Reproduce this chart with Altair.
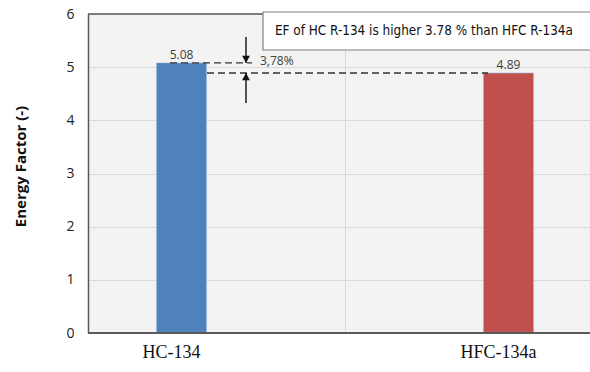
import altair as alt
import pandas as pd

categories = ["HC-134", "HFC-134a"]
series = ["HC", "HFC"]
values = [5.08, 4.89]
value_labels = ["5.08", "4.89"]
colors = ["#4F81BD", "#C0504D"]
y_ticks = [0, 1, 2, 3, 4, 5, 6]
diff_label = "3,78%"
note = "EF of HC R-134 is higher 3.78 % than HFC R-134a"

df = pd.DataFrame({"cat": categories, "ser": series, "val": values, "lab": value_labels})

W, H = 502, 319
xs = alt.Scale(domain=categories, range=[0, 514], paddingInner=0, paddingOuter=0)
xo = alt.Scale(domain=series, paddingInner=0.2857, paddingOuter=0.9786)
ys = alt.Scale(domain=[0, 6], nice=False)

base = alt.Chart(df)

bars = base.mark_bar(stroke="#9fb8dd", strokeWidth=0.6).encode(
    x=alt.X("cat:N", scale=xs, sort=categories,
            axis=alt.Axis(title=None, labels=False, ticks=False, domain=False,
                          grid=True, tickBand="extent", gridColor="#d9d9d9", gridWidth=1)),
    xOffset=alt.XOffset("ser:N", scale=xo),
    y=alt.Y("val:Q", scale=ys,
            axis=alt.Axis(title="Energy Factor (-)", values=y_ticks, ticks=False,
                          grid=True, gridColor="#d9d9d9", domain=True,
                          domainColor="#595959", domainWidth=1.5,
                          labelFont="Open Sans", labelFontSize=14, labelColor="#222222",
                          labelPadding=14,
                          titleFont="Open Sans", titleFontSize=15, titleFontWeight="bold",
                          titleColor="#111111", titleX=-68, titleY=152,
                          titleBaseline="middle", titleAlign="center", titleAngle=270)),
    color=alt.Color("ser:N", scale=alt.Scale(domain=series, range=colors), legend=None),
)

bar_labels = base.mark_text(font="Open Sans", fontSize=12, color="#404040", dy=-8).encode(
    x=alt.X("cat:N", scale=xs, sort=categories),
    xOffset=alt.XOffset("ser:N", scale=xo),
    y=alt.Y("val:Q", scale=ys),
    text="lab:N",
)

cat_labels = base.mark_text(font="Liberation Serif", fontSize=18, color="#111111", dx=-10).encode(
    x=alt.X("cat:N", scale=xs, sort=categories),
    xOffset=alt.XOffset("ser:N", scale=xo),
    y=alt.value(H + 20),
    text="cat:N",
)

frame_top = alt.Chart(pd.DataFrame({"v": [6]})).mark_rule(color="#595959", strokeWidth=1.5).encode(
    y=alt.Y("v:Q", scale=ys))
frame_bottom = alt.Chart(pd.DataFrame({"v": [0]})).mark_rule(color="#595959", strokeWidth=2).encode(
    y=alt.Y("v:Q", scale=ys))

# annotation: dashed reference lines
dash1 = alt.Chart(pd.DataFrame({"v": [values[0]]})).mark_rule(
    color="#333333", strokeDash=[7, 4], strokeWidth=1.3).encode(
    y=alt.Y("v:Q", scale=ys), x=alt.value(82), x2=alt.value(164))
dash2 = alt.Chart(pd.DataFrame({"v": [values[1]]})).mark_rule(
    color="#333333", strokeDash=[7, 4], strokeWidth=1.3).encode(
    y=alt.Y("v:Q", scale=ys), x=alt.value(119), x2=alt.value(400))

ann = pd.DataFrame({"top": [values[0]], "bot": [values[1]]})
AX = 158
arrow_top = alt.Chart(ann).mark_rule(color="#111111", strokeWidth=1.4).encode(
    x=alt.value(AX), y=alt.Y("top:Q", scale=ys), y2=alt.value(23))
arrow_bot = alt.Chart(ann).mark_rule(color="#111111", strokeWidth=1.4).encode(
    x=alt.value(AX), y=alt.Y("bot:Q", scale=ys), y2=alt.value(89))
head_down = alt.Chart(ann).mark_point(
    shape="M0,0L-0.6,-1.1L0.6,-1.1Z", filled=True, color="#111111", size=170, opacity=1).encode(
    x=alt.value(AX), y=alt.Y("top:Q", scale=ys))
head_up = alt.Chart(ann).mark_point(
    shape="M0,0L-0.6,1.1L0.6,1.1Z", filled=True, color="#111111", size=170, opacity=1).encode(
    x=alt.value(AX), y=alt.Y("bot:Q", scale=ys))
diff_text = alt.Chart(pd.DataFrame({"v": [values[0]], "t": [diff_label]})).mark_text(
    font="Open Sans", fontSize=12, color="#404040", align="left", baseline="middle", dy=-2).encode(
    x=alt.value(172), y=alt.Y("v:Q", scale=ys), text="t:N")

box = alt.Chart(pd.DataFrame({"t": [note]})).mark_rect(
    fill="white", stroke="#7f7f7f", strokeWidth=1.2).encode(
    x=alt.value(175), x2=alt.value(520), y=alt.value(-2), y2=alt.value(36))
box_text = alt.Chart(pd.DataFrame({"t": [note]})).mark_text(
    font="DejaVu Sans Condensed", fontSize=13.4,
    color="#111111", align="left", baseline="middle").encode(
    x=alt.value(187), y=alt.value(17), text="t:N")

chart = alt.layer(
    bars, frame_top, frame_bottom, dash1, dash2, arrow_top, arrow_bot, head_down, head_up,
    bar_labels, diff_text, box, box_text, cat_labels
).properties(
    width=W, height=H,
    autosize=alt.AutoSizeParams(type="none"),
    padding={"left": 88, "top": 14, "right": 0, "bottom": 39},
    background="white",
).configure_view(stroke=None, fill="#f3f3f3")

chart.save("out.html", embed_options={"renderer": "svg", "actions": False})
